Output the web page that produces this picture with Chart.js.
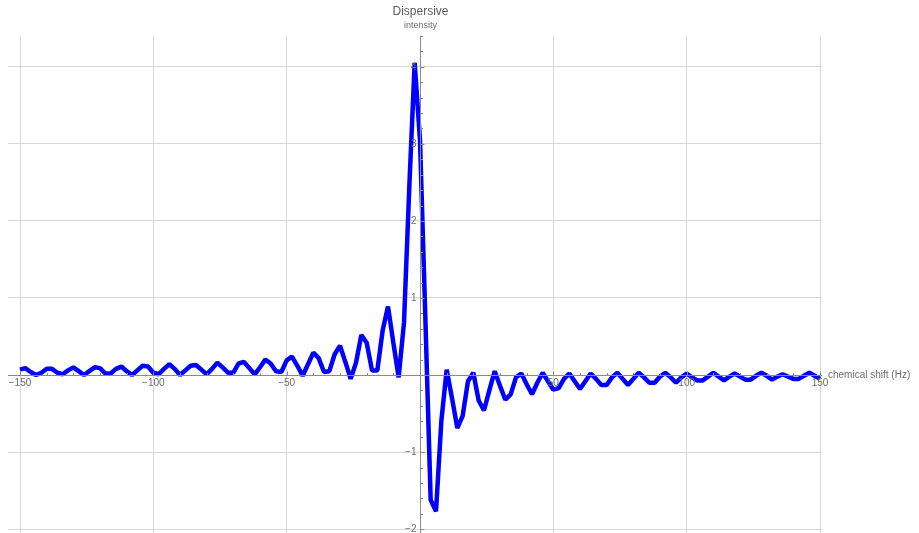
<!DOCTYPE html>
<html>
<head>
<meta charset="utf-8">
<title>Dispersive</title>
<script src="https://cdn.jsdelivr.net/npm/chart.js@4.4.1/dist/chart.umd.min.js"></script>
<style>
  html, body { margin: 0; padding: 0; background: #fff; }
  #wrap { width: 919px; height: 533px; }
</style>
</head>
<body>
<div id="wrap"><canvas id="spectrum" width="919" height="533"></canvas></div>
<script>
// chemical shift axis (Hz), one sample every 2 Hz
const shifts = [
  -150, -148, -146, -144, -142, -140, -138, -136, -134, -132, -130, -128, -126, -124, -122, -120,
  -118, -116, -114, -112, -110, -108, -106, -104, -102, -100, -98, -96, -94, -92, -90, -88,
  -86, -84, -82, -80, -78, -76, -74, -72, -70, -68, -66, -64, -62, -60, -58, -56,
  -54, -52, -50, -48, -46, -44, -42, -40, -38, -36, -34, -32, -30, -28, -26, -24,
  -22, -20, -18, -16, -14, -12, -10, -8, -6, -4, -2, 0, 2, 4, 6, 8,
  10, 12, 14, 16, 18, 20, 22, 24, 26, 28, 30, 32, 34, 36, 38, 40,
  42, 44, 46, 48, 50, 52, 54, 56, 58, 60, 62, 64, 66, 68, 70, 72,
  74, 76, 78, 80, 82, 84, 86, 88, 90, 92, 94, 96, 98, 100, 102, 104,
  106, 108, 110, 112, 114, 116, 118, 120, 122, 124, 126, 128, 130, 132, 134, 136,
  138, 140, 142, 144, 146, 148, 150
];

// dispersive line shape intensity at each shift
const intensity = [
  0.07, 0.09, 0.04, 0.00, 0.03, 0.08, 0.08, 0.03, 0.01, 0.06, 0.10, 0.05, 0.00, 0.05, 0.10, 0.09,
  0.02, 0.02, 0.08, 0.11, 0.05, 0.00, 0.06, 0.12, 0.11, 0.03, 0.01, 0.08, 0.14, 0.08, 0.00, 0.06,
  0.12, 0.13, 0.07, 0.01, 0.08, 0.16, 0.10, 0.03, 0.03, 0.15, 0.17, 0.09, 0.01, 0.10, 0.20, 0.15,
  0.05, 0.04, 0.19, 0.24, 0.12, -0.01, 0.14, 0.29, 0.22, 0.04, 0.05, 0.27, 0.38, 0.17, -0.05, 0.16,
  0.52, 0.42, 0.06, 0.06, 0.58, 0.89, 0.42, -0.03, 0.68, 2.45, 4.05, 3.05, 0.75, -1.62, -1.77, -0.60,
  0.07, -0.30, -0.69, -0.53, -0.08, 0.03, -0.33, -0.46, -0.20, 0.05, -0.14, -0.32, -0.25, -0.03, 0.02, -0.12,
  -0.25, -0.10, 0.03, -0.08, -0.19, -0.17, -0.05, 0.02, -0.08, -0.18, -0.08, 0.02, -0.05, -0.13, -0.13, -0.03,
  0.03, -0.05, -0.13, -0.05, 0.03, -0.03, -0.10, -0.10, -0.02, 0.03, -0.03, -0.10, -0.03, 0.02, -0.03, -0.07,
  -0.07, -0.02, 0.03, -0.02, -0.07, -0.02, 0.02, -0.02, -0.06, -0.06, -0.01, 0.03, -0.01, -0.06, -0.02, 0.01,
  -0.02, -0.05, -0.05, -0.01, 0.03, -0.01, -0.05
];

const xTicks = [-150, -100, -50, 0, 50, 100, 150];
const xLabels = ['\u2212150', '\u2212100', '\u221250', '', '50', '100', '150'];
const yTicks = [-2, -1, 0, 1, 2, 3, 4];
const yLabels = ['\u22122', '\u22121', '', '1', '2', '3', '4'];

const AXIS = '#8a8a8a';
const LABEL = '#6b6b6b';

// axes through the origin, with major/minor ticks, drawn from the chart scales
const originAxes = {
  id: 'originAxes',
  afterDatasetsDraw(chart) {
    const { ctx, chartArea: a, scales: { x, y } } = chart;
    const x0 = Math.round(x.getPixelForValue(0)) + 0.5;
    const y0 = Math.round(y.getPixelForValue(0)) + 0.5;
    ctx.save();
    ctx.strokeStyle = AXIS;
    ctx.lineWidth = 1;
    ctx.beginPath();
    ctx.moveTo(a.left, y0); ctx.lineTo(a.right, y0);
    ctx.moveTo(x0, a.top); ctx.lineTo(x0, a.bottom);
    // x ticks every 10 Hz, longer every 50
    for (let v = -150; v <= 150; v += 10) {
      if (v === 0) continue;
      const px = Math.round(x.getPixelForValue(v)) + 0.5;
      const len = v % 50 === 0 ? 4 : 2.5;
      ctx.moveTo(px, y0); ctx.lineTo(px, y0 - len);
    }
    // y ticks every 0.2, longer on whole numbers
    for (let i = -10; i <= 22; i++) {
      if (i === 0) continue;
      const py = Math.round(y.getPixelForValue(i / 5)) + 0.5;
      const len = i % 5 === 0 ? 4 : 2.5;
      ctx.moveTo(x0, py); ctx.lineTo(x0 + len, py);
    }
    ctx.stroke();

    ctx.fillStyle = LABEL;
    ctx.font = '10px "Liberation Sans", Arial, sans-serif';
    ctx.textAlign = 'center';
    ctx.textBaseline = 'top';
    xTicks.forEach((v, i) => {
      if (xLabels[i]) ctx.fillText(xLabels[i], x.getPixelForValue(v), y0 + 3);
    });
    ctx.textAlign = 'right';
    ctx.textBaseline = 'middle';
    yTicks.forEach((v, i) => {
      if (yLabels[i]) ctx.fillText(yLabels[i], x0 - 4, y.getPixelForValue(v));
    });
    ctx.textAlign = 'left';
    ctx.fillText('chemical shift (Hz)', a.right + 6, y0);
    ctx.textAlign = 'center';
    ctx.textBaseline = 'alphabetic';
    ctx.font = '9px "Liberation Sans", Arial, sans-serif';
    ctx.fillText('intensity', x0, a.top - 8);
    ctx.font = '12px "Liberation Sans", Arial, sans-serif';
    ctx.fillStyle = '#5a5a5a';
    ctx.fillText('Dispersive', x0, 15);
    ctx.restore();
  }
};

new Chart(document.getElementById('spectrum'), {
  type: 'scatter',
  data: {
    datasets: [{
      data: shifts.map((s, i) => ({ x: s, y: intensity[i] })),
      showLine: true,
      borderColor: '#0000ff',
      borderWidth: 4.5,
      borderJoinStyle: 'bevel',
      pointRadius: 0,
      tension: 0
    }]
  },
  options: {
    responsive: false,
    animation: false,
    layout: { padding: { left: 8, right: 97, top: 36, bottom: 0 } },
    plugins: { legend: { display: false }, tooltip: { enabled: false } },
    scales: {
      x: {
        type: 'linear',
        min: -154.5,
        max: 150.75,
        afterBuildTicks: s => { s.ticks = xTicks.map(v => ({ value: v })); },
        ticks: { display: false },
        grid: { color: '#d6d6d6', lineWidth: 1, drawTicks: false },
        border: { display: false }
      },
      y: {
        type: 'linear',
        min: -2.05,
        max: 4.4,
        afterBuildTicks: s => { s.ticks = yTicks.map(v => ({ value: v })); },
        ticks: { display: false },
        grid: { color: '#d6d6d6', lineWidth: 1, drawTicks: false },
        border: { display: false }
      }
    }
  },
  plugins: [originAxes]
});
</script>
</body>
</html>
